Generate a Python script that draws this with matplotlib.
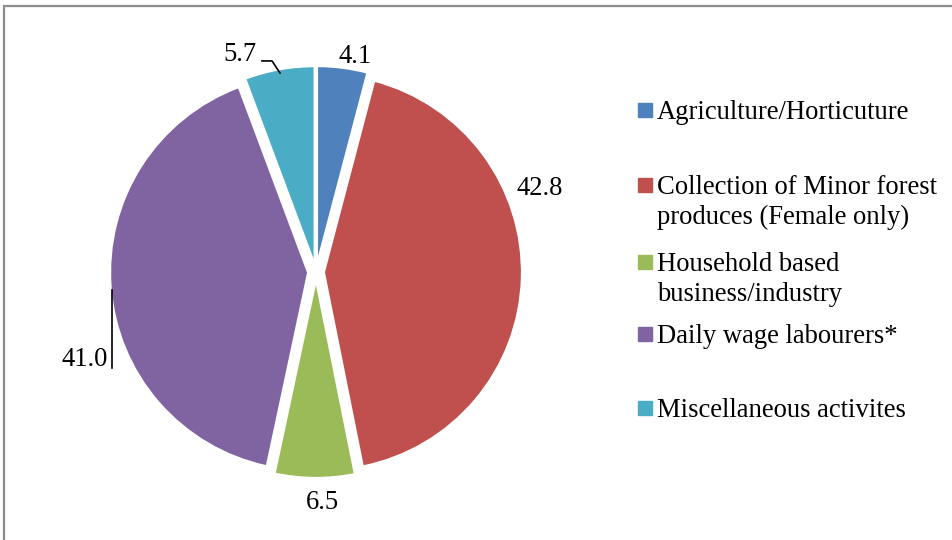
import matplotlib.pyplot as plt
from matplotlib.patches import Rectangle

plt.rcParams["font.family"] = ["Liberation Serif", "DejaVu Serif"]

CATEGORIES = [
    "Agriculture/Horticuture",
    "Collection of Minor forest\nproduces (Female only)",
    "Household based\nbusiness/industry",
    "Daily wage labourers*",
    "Miscellaneous activites",
]
VALUES = [4.1, 42.8, 6.5, 41.0, 5.7]
COLORS = ["#4f81bd", "#c0504d", "#9bbb59", "#8064a2", "#4bacc6"]

# label placement (pie units) and legend rows (pixels from top)
LABEL_POS = [(0.197, 1.086), (1.131, 0.424), (0.03, -1.162), (-1.167, -0.444), (-0.384, 1.096)]
LEGEND_Y = [110, 185, 262, 334, 408]

W, H = 953, 540
FS = 19.2

fig = plt.figure(figsize=(W / 100, H / 100), dpi=100)

# chart border (runs off right and bottom like the source)
fig.patches.append(Rectangle((4 / W, -0.1), 1.2, 1 - 6 / H + 0.1, transform=fig.transFigure,
                             fill=False, edgecolor="#8c8c8c", linewidth=1.6))

cx, cy, unit = 316, 272, 198
half = 1.2 * unit
ax = fig.add_axes([(cx - half) / W, (H - cy - half) / H, 2 * half / W, 2 * half / H])
ax.pie(
    VALUES,
    colors=COLORS,
    startangle=90,
    counterclock=False,
    explode=[0.04] * len(VALUES),
    wedgeprops=dict(edgecolor="white", linewidth=1.5),
)
ax.set_xlim(-1.2, 1.2)
ax.set_ylim(-1.2, 1.2)
ax.set_aspect("equal")
ax.axis("off")

for v, (x, y) in zip(VALUES, LABEL_POS):
    ax.text(x, y, f"{v:.1f}", ha="center", va="center", fontsize=FS)

# leader lines
ax.plot([-0.273, -0.222, -0.182], [1.066, 1.066, 1.005], color="black", lw=1.2)
ax.plot([-1.03, -1.03], [-0.091, -0.485], color="black", lw=1.2)

# legend
for cat, color, y in zip(CATEGORIES, COLORS, LEGEND_Y):
    fig.patches.append(Rectangle((638 / W, 1 - (y + 6.5) / H), 13.5 / W, 13.5 / H,
                                 transform=fig.transFigure, color=color))
    for i, line in enumerate(cat.split("\n")):
        fig.text(657 / W, 1 - (y + 2.5 + 30 * i) / H, line, ha="left", va="center", fontsize=FS)

fig.savefig("out.png", dpi=100)
